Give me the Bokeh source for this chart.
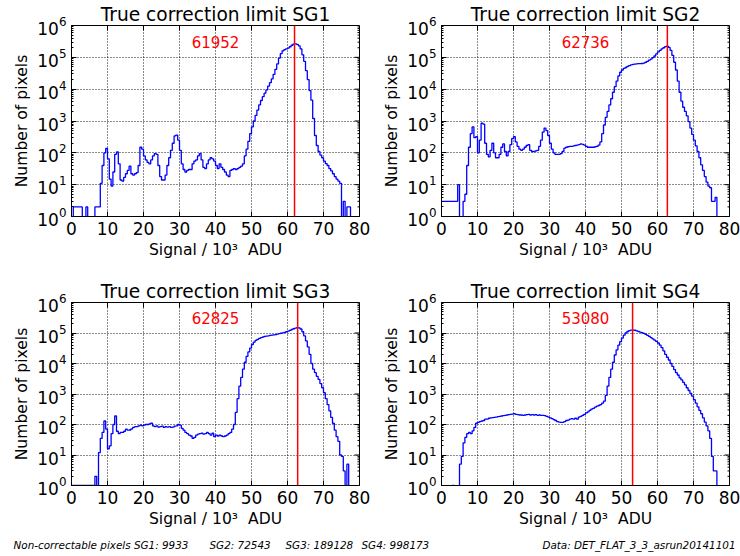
import numpy as np
from bokeh.plotting import figure
from bokeh.layouts import column, row
from bokeh.models import Span, FixedTicker
from bokeh.core.properties import value
from bokeh.embed import file_html
from bokeh.resources import INLINE

BIN_WIDTH = 0.5  # 10^3 ADU per histogram bin, bins start at 0

groups = ["SG1", "SG2", "SG3", "SG4"]
limits = [61952, 62736, 62825, 53080]
noncorrectable = [9933, 72543, 189128, 998173]
data_name = "DET_FLAT_3_3_asrun20141101"
x_ticks = [0, 10, 20, 30, 40, 50, 60, 70, 80]
y_decades = [1, 10, 100, 1000, 10000, 100000, 1000000]

counts_sg1 = [
    0, 2, 2, 2, 2, 2, 0, 0, 2, 0,
    0, 0, 0, 2, 2, 2, 11, 40, 100, 137,
    65, 15, 9, 25, 90, 107, 45, 14, 13, 17,
    22, 28, 38, 22, 20, 22, 24, 40, 150, 130,
    80, 60, 50, 45, 60, 80, 95, 90, 40, 18,
    14, 14, 20, 40, 70, 120, 200, 340, 360, 250,
    120, 45, 30, 25, 28, 30, 30, 45, 55, 60,
    80, 95, 60, 35, 32, 45, 60, 70, 65, 55,
    40, 32, 45, 35, 30, 25, 20, 18, 28, 30,
    32, 30, 32, 35, 38, 45, 80, 130, 230, 400,
    650, 1000, 1500, 2200, 3200, 4400, 5800, 7500, 9500, 12500,
    16000, 21000, 29000, 42000, 62000, 95000, 130000, 160000, 175000, 185000,
    195000, 215000, 240000, 260000, 265000, 255000, 230000, 185000, 120000, 75000,
    38000, 20000, 9000, 4500, 1200, 350, 170, 110, 85, 70,
    55, 46, 40, 32, 27, 22, 18, 15, 13, 11,
    0, 3, 0, 2, 2, 0,
]

counts_sg2 = [
    3, 3, 3, 3, 3, 3, 3, 3, 3, 10,
    0, 0, 3, 5, 40, 150, 400, 650, 300, 320,
    100, 250, 850, 800, 200, 90, 75, 120, 200, 100,
    70, 70, 90, 150, 190, 110, 80, 110, 180, 280,
    320, 220, 160, 130, 120, 130, 150, 170, 180, 120,
    110, 110, 115, 120, 160, 250, 450, 600, 500, 350,
    200, 130, 100, 90, 90, 90, 95, 110, 140, 150,
    155, 160, 160, 165, 170, 175, 180, 190, 185, 175,
    160, 150, 150, 150, 150, 155, 160, 175, 220, 400,
    750, 1300, 2000, 3200, 5000, 8000, 12000, 18000, 26000, 34000,
    40000, 45000, 48000, 52000, 55000, 58000, 60000, 61000, 62000, 63000,
    63000, 64000, 66000, 70000, 75000, 82000, 88000, 98000, 110000, 128000,
    148000, 165000, 185000, 200000, 218000, 225000, 205000, 165000, 115000, 70000,
    40000, 18000, 8000, 4200, 2700, 2000, 1450, 950, 600, 380,
    250, 165, 110, 70, 42, 28, 18, 12, 9, 8,
    3, 3, 4, 0, 0, 0,
]

counts_sg3 = [
    1, 1, 1, 1, 1, 1, 1, 1, 1, 1,
    1, 1, 1, 2, 0, 12, 35, 55, 130, 70,
    16, 20, 50, 100, 190, 60, 50, 55, 55, 60,
    70, 65, 66, 72, 80, 85, 85, 90, 95, 90,
    95, 100, 100, 105, 110, 90, 85, 90, 82, 85,
    88, 80, 85, 82, 85, 80, 82, 88, 90, 100,
    95, 75, 65, 55, 50, 45, 42, 35, 38, 45,
    48, 50, 52, 48, 50, 55, 50, 45, 52, 40,
    45, 42, 45, 42, 40, 42, 45, 50, 55, 70,
    100, 250, 700, 1800, 3500, 6500, 11000, 17000, 24000, 32000,
    42000, 50000, 57000, 62000, 67000, 71000, 74000, 77000, 79000, 81000,
    83000, 85000, 87000, 89000, 92000, 95000, 98000, 101000, 105000, 110000,
    115000, 122000, 130000, 138000, 145000, 150000, 148000, 135000, 110000, 80000,
    55000, 35000, 20000, 10000, 6500, 5000, 3800, 3000, 2200, 1600,
    1100, 700, 450, 280, 170, 110, 65, 40, 28, 10,
    9, 3, 0, 5, 0, 0,
]

counts_sg4 = [
    0, 0, 0, 0, 0, 0, 1, 0, 0, 0,
    5, 9, 25, 38, 50, 55, 50, 62, 80, 110,
    118, 125, 130, 135, 150, 150, 160, 165, 168, 170,
    175, 180, 185, 190, 195, 200, 205, 210, 215, 220,
    225, 215, 210, 205, 205, 200, 205, 210, 215, 205,
    210, 205, 210, 200, 205, 200, 200, 195, 185, 175,
    165, 155, 145, 135, 125, 120, 118, 118, 125, 135,
    140, 150, 155, 150, 160, 150, 175, 185, 200, 215,
    240, 260, 290, 320, 340, 370, 400, 420, 450, 500,
    580, 900, 1800, 3500, 6500, 11000, 19000, 28000, 40000, 52000,
    68000, 85000, 100000, 112000, 120000, 124000, 125000, 123000, 118000, 112000,
    107000, 102000, 97000, 91000, 84000, 77000, 70000, 64000, 58000, 53000,
    47000, 40000, 33000, 26000, 20000, 16000, 13000, 10000, 8000, 6300,
    5000, 4200, 3400, 2900, 2400, 2000, 1600, 1300, 1050, 850,
    650, 500, 380, 290, 225, 165, 120, 90, 62, 35,
    9, 3, 3, 0, 0, 0,
]

all_counts = [counts_sg1, counts_sg2, counts_sg3, counts_sg4]

FONT = "DejaVu Sans"


def make_panel(name, counts, limit, height, top, bottom):
    p = figure(width=370, height=height, x_range=(0, 80), y_range=(1, 1e6),
               y_axis_type="log", output_backend="svg", toolbar_location=None,
               min_border_left=71, min_border_right=11,
               min_border_top=top, min_border_bottom=bottom,
               title="True correction limit " + name)
    p.background_fill_color = "white"
    p.border_fill_color = "white"
    p.outline_line_color = "black"
    p.outline_line_width = 1

    p.title.align = "center"
    p.title.text_font = FONT
    p.title.text_font_size = "18.6px"
    p.title.text_font_style = "normal"
    p.title.text_color = "black"
    p.title.standoff = 2

    c = np.array(counts, dtype=float)
    edges = np.arange(len(c) + 1) * BIN_WIDTH
    yy = np.where(c > 0, c, 1e-3)
    ys = np.append(yy, yy[-1])
    p.step(edges, ys, mode="after", line_color="#0000ff", line_width=1.3)

    p.add_layout(Span(location=limit / 1000.0, dimension="height",
                      line_color="#ff0000", line_width=1.5))
    p.text(x=[40], y=[3e5], text=[str(limit)], text_color="#ff0000",
           text_font=value(FONT), text_font_size="15px",
           text_align="center", text_baseline="middle")

    p.xaxis.ticker = FixedTicker(ticks=x_ticks)
    p.xaxis.axis_label = "Signal / 10\u00b3 \u00a0ADU"
    p.yaxis.axis_label = "Number of pixels"
    for ax in p.axis:
        ax.major_label_text_font = FONT
        ax.major_label_text_font_size = "17px"
        ax.major_label_text_color = "black"
        ax.axis_label_text_font = FONT
        ax.axis_label_text_font_size = "15.6px"
        ax.axis_label_text_font_style = "normal"
        ax.axis_label_text_color = "black"
        ax.major_tick_in = 5
        ax.major_tick_out = 0
        ax.minor_tick_in = 2
        ax.minor_tick_out = 0
        ax.axis_line_color = "black"
        ax.major_tick_line_color = "black"
        ax.minor_tick_line_color = "black"
        ax.major_label_standoff = 5
        ax.axis_label_standoff = 3
    p.xaxis.minor_tick_line_color = None

    # inward ticks on the top and right edges (mirroring the axis ticks)
    y_top = y_decades[-1]
    x_right = x_ticks[-1]
    p.ray(x=x_ticks, y=[y_top] * len(x_ticks), length=5, length_units="screen",
          angle=-np.pi / 2, line_color="black", line_width=1)
    p.ray(x=[x_right] * len(y_decades), y=y_decades, length=5, length_units="screen",
          angle=np.pi, line_color="black", line_width=1)
    minor_y = [d * m for d in y_decades[:-1] for m in range(2, 10)]
    p.ray(x=[x_right] * len(minor_y), y=minor_y, length=2, length_units="screen",
          angle=np.pi, line_color="black", line_width=1)

    p.xgrid.ticker = FixedTicker(ticks=x_ticks)
    p.grid.grid_line_color = "black"
    p.grid.grid_line_dash = "1 2"
    p.grid.grid_line_alpha = 0.9
    p.grid.grid_line_width = 1
    return p


panels = []
for i, name in enumerate(groups):
    if i < 2:
        panels.append(make_panel(name, all_counts[i], limits[i], 270, 24, 54))
    else:
        panels.append(make_panel(name, all_counts[i], limits[i], 260, 32, 39))

footer = figure(width=740, height=26, x_range=(0, 740), y_range=(0, 26),
                output_backend="svg", toolbar_location=None, min_border=0,
                x_axis_location=None, y_axis_location=None)
footer.outline_line_color = None
footer.grid.visible = False
footer.background_fill_color = "white"
footer.border_fill_color = "white"

foot_texts = ["Non-correctable pixels %s: %d" % (groups[0], noncorrectable[0])] + \
             ["%s: %d" % (groups[k], noncorrectable[k]) for k in range(1, 4)]
foot_x = [13, 209, 285, 361]
footer.text(x=foot_x, y=[12] * 4, text=foot_texts, text_color="black",
            text_font=value(FONT), text_font_size="10.4px", text_font_style="italic",
            text_align="left", text_baseline="middle")
footer.text(x=[735], y=[12], text=["Data: " + data_name], text_color="black",
            text_font=value(FONT), text_font_size="10.4px", text_font_style="italic",
            text_align="right", text_baseline="middle")

layout = column(row(panels[0], panels[1]), row(panels[2], panels[3]), footer)

with open("out.html", "w") as fh:
    fh.write(file_html(layout, INLINE))
